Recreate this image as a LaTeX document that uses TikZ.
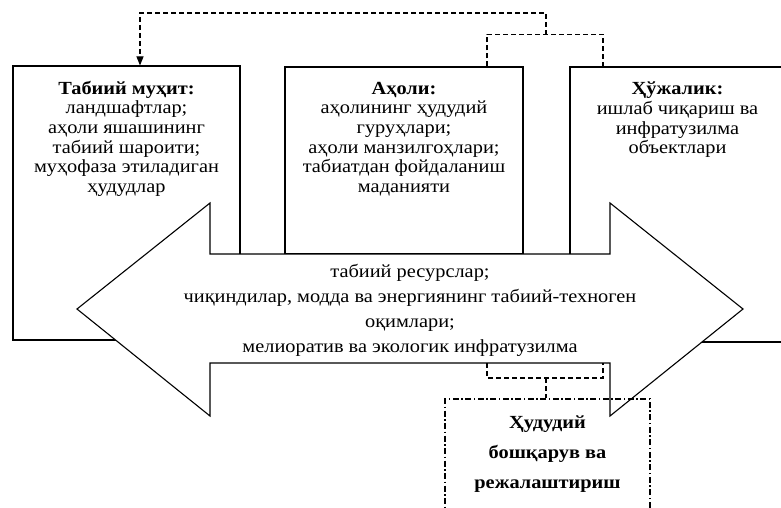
\documentclass[tikz,border=0pt]{standalone}
\usepackage{fontspec}
\setmainfont{Liberation Serif}[FakeStretch=1.1]
\usetikzlibrary{arrows.meta}
\begin{document}
\begin{tikzpicture}[x=1pt,y=-1pt,
  frame/.style={draw, line width=1.1pt, inner sep=0pt},
  outline/.style={draw, line width=1.1pt, line join=miter},
  txt/.style={align=center, inner sep=0pt, font=\fontsize{18.5}{19.6}\selectfont},
  flowtxt/.style={align=center, inner sep=0pt, font=\fontsize{18.5}{25}\selectfont},
  plantxt/.style={align=center, inner sep=0pt, font=\fontsize{18.5}{30}\selectfont\bfseries},
  dsh/.style={line width=1.1pt, dash pattern=on 5pt off 3pt},
  dshdot/.style={draw, line width=1.1pt, inner sep=0pt, dash pattern=on 6pt off 2.5pt on 1.5pt off 2.5pt}]
\useasboundingbox (0,0) rectangle (781,508);
\clip (0,0) rectangle (781,508);
% boxes
\node[frame, minimum width=227pt, minimum height=274pt] (nat) at (126.5,203) {};
\node[frame, minimum width=238pt, minimum height=187pt] (pop) at (404,160.5) {};
\node[frame, minimum width=215pt, minimum height=275pt] (eco) at (677.5,204.5) {};
\node[txt, anchor=north] (natT) at ([yshift=-15.5pt]nat.north)
  {\textbf{Табиий муҳит:}\\ландшафтлар;\\аҳоли яшашининг\\табиий шароити;\\муҳофаза этиладиган\\ҳудудлар};
\node[txt, anchor=north] (popT) at ([yshift=-15.5pt]pop.north)
  {\textbf{Аҳоли:}\\аҳолининг ҳудудий\\гуруҳлари;\\аҳоли манзилгоҳлари;\\табиатдан фойдаланиш\\маданияти};
\node[txt, anchor=north] (ecoT) at ([yshift=-15.5pt]eco.north)
  {\textbf{Ҳўжалик:}\\ишлаб чиқариш ва\\инфратузилма\\объектлари};
% double arrow
\draw[outline, fill=white] (77,309) -- (210,203) -- (210,254) -- (610,254) -- (610,203)
  -- (743,309) -- (610,416) -- (610,363) -- (210,363) -- (210,416) -- cycle;
\node[flowtxt] (flow) at (410,310)
  {табиий ресурслар;\\чиқиндилар, модда ва энергиянинг табиий-техноген\\оқимлари;\\мелиоратив ва экологик инфратузилма};
\coordinate (sb1) at (487,363);
\coordinate (sb2) at (603,363);
% planning box
\node[dshdot, minimum width=205pt, minimum height=141pt] (plan) at (547.5,469.5) {};
\node[plantxt, anchor=north] (planT) at ([yshift=-17pt]plan.north)
  {Ҳудудий\\бошқарув ва\\режалаштириш};
% top dashed connectors
\draw[dsh] ([xshift=83pt]pop.north) -- ++(0,-32) -| ([xshift=-74.5pt]eco.north);
\coordinate (tm) at (546,35);
\draw[dsh, -{Triangle[width=7pt,length=9pt]}] (tm) -- (546,13) -| ([xshift=13.5pt]nat.north);
% bottom dashed connectors
\draw[dsh] (sb1) -- (487,378) -- (603,378) -- (sb2);
\coordinate (bm) at (546,378);
\draw[dsh] (bm) -- (bm |- plan.north);
\end{tikzpicture}
\end{document}
